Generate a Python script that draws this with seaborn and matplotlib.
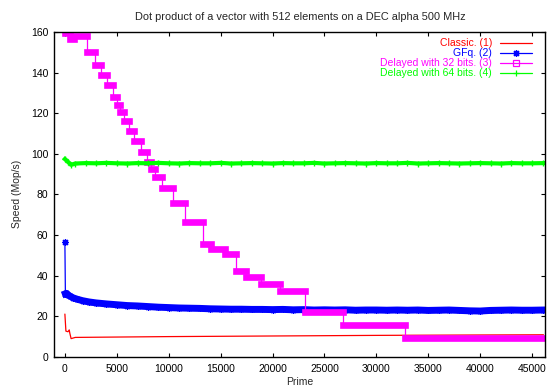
import numpy as np
import pandas as pd
import matplotlib.pyplot as plt
import seaborn as sns
from matplotlib.lines import Line2D

sns.set_style("ticks")
plt.rcParams['font.family'] = ['Liberation Sans', 'DejaVu Sans']
plt.rcParams['font.size'] = 7.4

# Classic. (1)
classic_x = [2, 100, 300, 420, 480, 600, 1000, 10000, 20000, 30000, 40000, 46100]
classic_y = [21.0, 12.6, 12.3, 13.2, 11.5, 8.9, 9.5, 9.9, 10.2, 10.5, 10.7, 10.8]

# GFq. (2)
gfq_x = [2, 50, 150, 300, 500, 800, 1200, 1700, 2300, 3000, 4000, 5000, 6000, 7000,
         8000, 9000, 10000, 11000, 12000, 13000, 14000, 15000, 16000, 17000, 18000,
         19000, 20000, 21000, 22000, 23000, 24000, 25000, 26000, 27000, 28000, 29000,
         30000, 31000, 32000, 33000, 34000, 35000, 36000, 37000, 38000, 39000, 40000,
         41000, 42000, 43000, 44000, 45000, 46100]
gfq_y = [56.5, 31.0, 31.2, 30.5, 29.8, 29.0, 28.3, 27.6, 27.0, 26.5, 26.0, 25.6, 25.2, 25.0,
         24.7, 24.4, 24.2, 24.0, 23.9, 23.8, 23.6, 23.5, 23.4, 23.4, 23.3,
         23.3, 23.2, 23.3, 23.1, 23.2, 23.0, 23.1, 23.0, 23.1, 22.9, 23.0,
         23.0, 22.9, 23.0, 22.9, 23.0, 22.8, 22.9, 23.0, 22.8, 22.6, 22.5,
         22.8, 22.9, 23.0, 22.9, 22.9, 23.0]

# Delayed with 32 bits. (3) : staircase (start of each level)
d32_start = [2, 450, 900, 2100, 2900, 3500, 4100, 4600, 5000, 5300, 5700, 6200, 6700,
             7300, 7900, 8300, 8700, 9400, 10400, 11600, 13350, 14050, 15450, 16450,
             17450, 18850, 20750, 23150, 26750, 32800]
d32_level = [159.5, 156.5, 158.0, 150.0, 143.5, 139.0, 134.0, 128.0, 124.0, 120.5, 116.0,
             111.0, 106.5, 101.0, 96.0, 92.5, 88.5, 83.0, 75.5, 66.5, 55.7, 53.2, 50.7,
             42.0, 39.4, 35.9, 32.2, 21.8, 15.8, 9.2]
d32_end = 46100

# Delayed with 64 bits. (4)
d64_x = [2, 300, 600, 1000, 2000, 3000, 4000, 5000, 6000, 7000, 8000, 9000, 10000,
         11000, 12000, 13000, 14000, 15000, 16000, 17000, 18000, 19000, 20000, 21000,
         22000, 23000, 24000, 25000, 26000, 27000, 28000, 29000, 30000, 31000, 32000,
         33000, 34000, 35000, 36000, 37000, 38000, 39000, 40000, 41000, 42000, 43000,
         44000, 45000, 46100]
d64_y = [97.4, 96.0, 94.6, 95.2, 95.4, 95.3, 95.5, 95.3, 95.2, 95.4, 95.3, 95.5, 95.3,
         95.2, 95.4, 95.3, 95.3, 95.5, 95.2, 95.3, 95.4, 95.3, 95.2, 95.4,
         95.3, 95.3, 95.5, 95.2, 95.3, 95.4, 95.3, 95.2, 95.4, 95.3, 95.3,
         95.5, 95.2, 95.3, 95.4, 95.3, 95.2, 95.3, 95.4, 95.3, 95.2, 95.4,
         95.3, 95.3, 95.4]

RED, BLUE, MAG, GREEN = '#ff0000', '#0000ff', '#ff00ff', '#00ff00'
AST = (8, 2, 0)

fig = plt.figure(figsize=(5.6, 3.88), dpi=100)
ax = fig.add_axes([0.0973, 0.0807, 0.8765, 0.8368])

# (1)
sns.lineplot(x=classic_x, y=classic_y, color=RED, lw=0.9, sort=False, estimator=None, ax=ax)

# (2)
sns.lineplot(x=gfq_x, y=gfq_y, color=BLUE, lw=0.9, sort=False, estimator=None, ax=ax,
             marker=AST, ms=5, mec=BLUE, mew=0.9)
sns.lineplot(x=gfq_x[1:], y=gfq_y[1:], color=BLUE, lw=5, sort=False, estimator=None, ax=ax,
             solid_capstyle='projecting')

# (3)
step_x = d32_start + [d32_end]
step_y = d32_level + [d32_level[-1]]
sns.lineplot(x=step_x, y=step_y, color=MAG, lw=0.9, drawstyle='steps-post',
             sort=False, estimator=None, ax=ax)
band = pd.DataFrame({
    'x': [v for i, s in enumerate(d32_start) for v in (s, step_x[i + 1])],
    'y': [v for l in d32_level for v in (l, l)],
    'seg': [i for i in range(len(d32_start)) for _ in (0, 1)],
})
sns.lineplot(data=band, x='x', y='y', units='seg', estimator=None, sort=False,
             color=MAG, lw=4.8, solid_capstyle='projecting', ax=ax)

# (4)
sns.lineplot(x=d64_x, y=d64_y, color=GREEN, lw=3.0, sort=False, estimator=None, ax=ax,
             marker='+', ms=5, mec=GREEN, mew=1.0, solid_capstyle='projecting')

ax.set_xlim(-1000, 46280)
ax.set_ylim(0, 160)
ax.set_xticks(range(0, 45001, 5000))
ax.set_yticks(range(0, 161, 20))
ax.tick_params(direction='in', top=True, right=True, length=3.2, width=0.8,
               labelsize=7.5, colors='black', pad=5)
ax.tick_params(axis='y', pad=4.5)
for sp in ax.spines.values():
    sp.set_visible(True)
    sp.set_color('black')
    sp.set_linewidth(1.0)

ax.set_xlabel('Prime', fontsize=7.5)
ax.set_ylabel('Speed (Mop/s)', fontsize=7.5)
ax.yaxis.set_label_coords(-0.066, 0.5)
ax.xaxis.set_label_coords(0.5, -0.064)
ax.set_title('Dot product of a vector with 512 elements on a DEC alpha 500 MHz',
             fontsize=7.9, pad=9)

handles = [
    Line2D([], [], color=RED, lw=0.9),
    Line2D([], [], color=BLUE, lw=0.9, marker=AST, ms=5, mew=0.9),
    Line2D([], [], color=MAG, lw=0.9, marker='s', ms=4, mfc='none', mew=0.9),
    Line2D([], [], color=GREEN, lw=0.9, marker='+', ms=5, mew=0.9),
]
labels = ['Classic. (1)', 'GFq. (2)', 'Delayed with 32 bits. (3)', 'Delayed with 64 bits. (4)']
ax.legend(handles, labels, loc='upper right', bbox_to_anchor=(0.9723, 0.981),
          frameon=False, markerfirst=False, labelcolor='linecolor', fontsize=7.5,
          borderpad=0, borderaxespad=0, labelspacing=0.0, handlelength=3.0,
          handletextpad=0.8, markerscale=1.0)

fig.savefig('out.png', dpi=100)
